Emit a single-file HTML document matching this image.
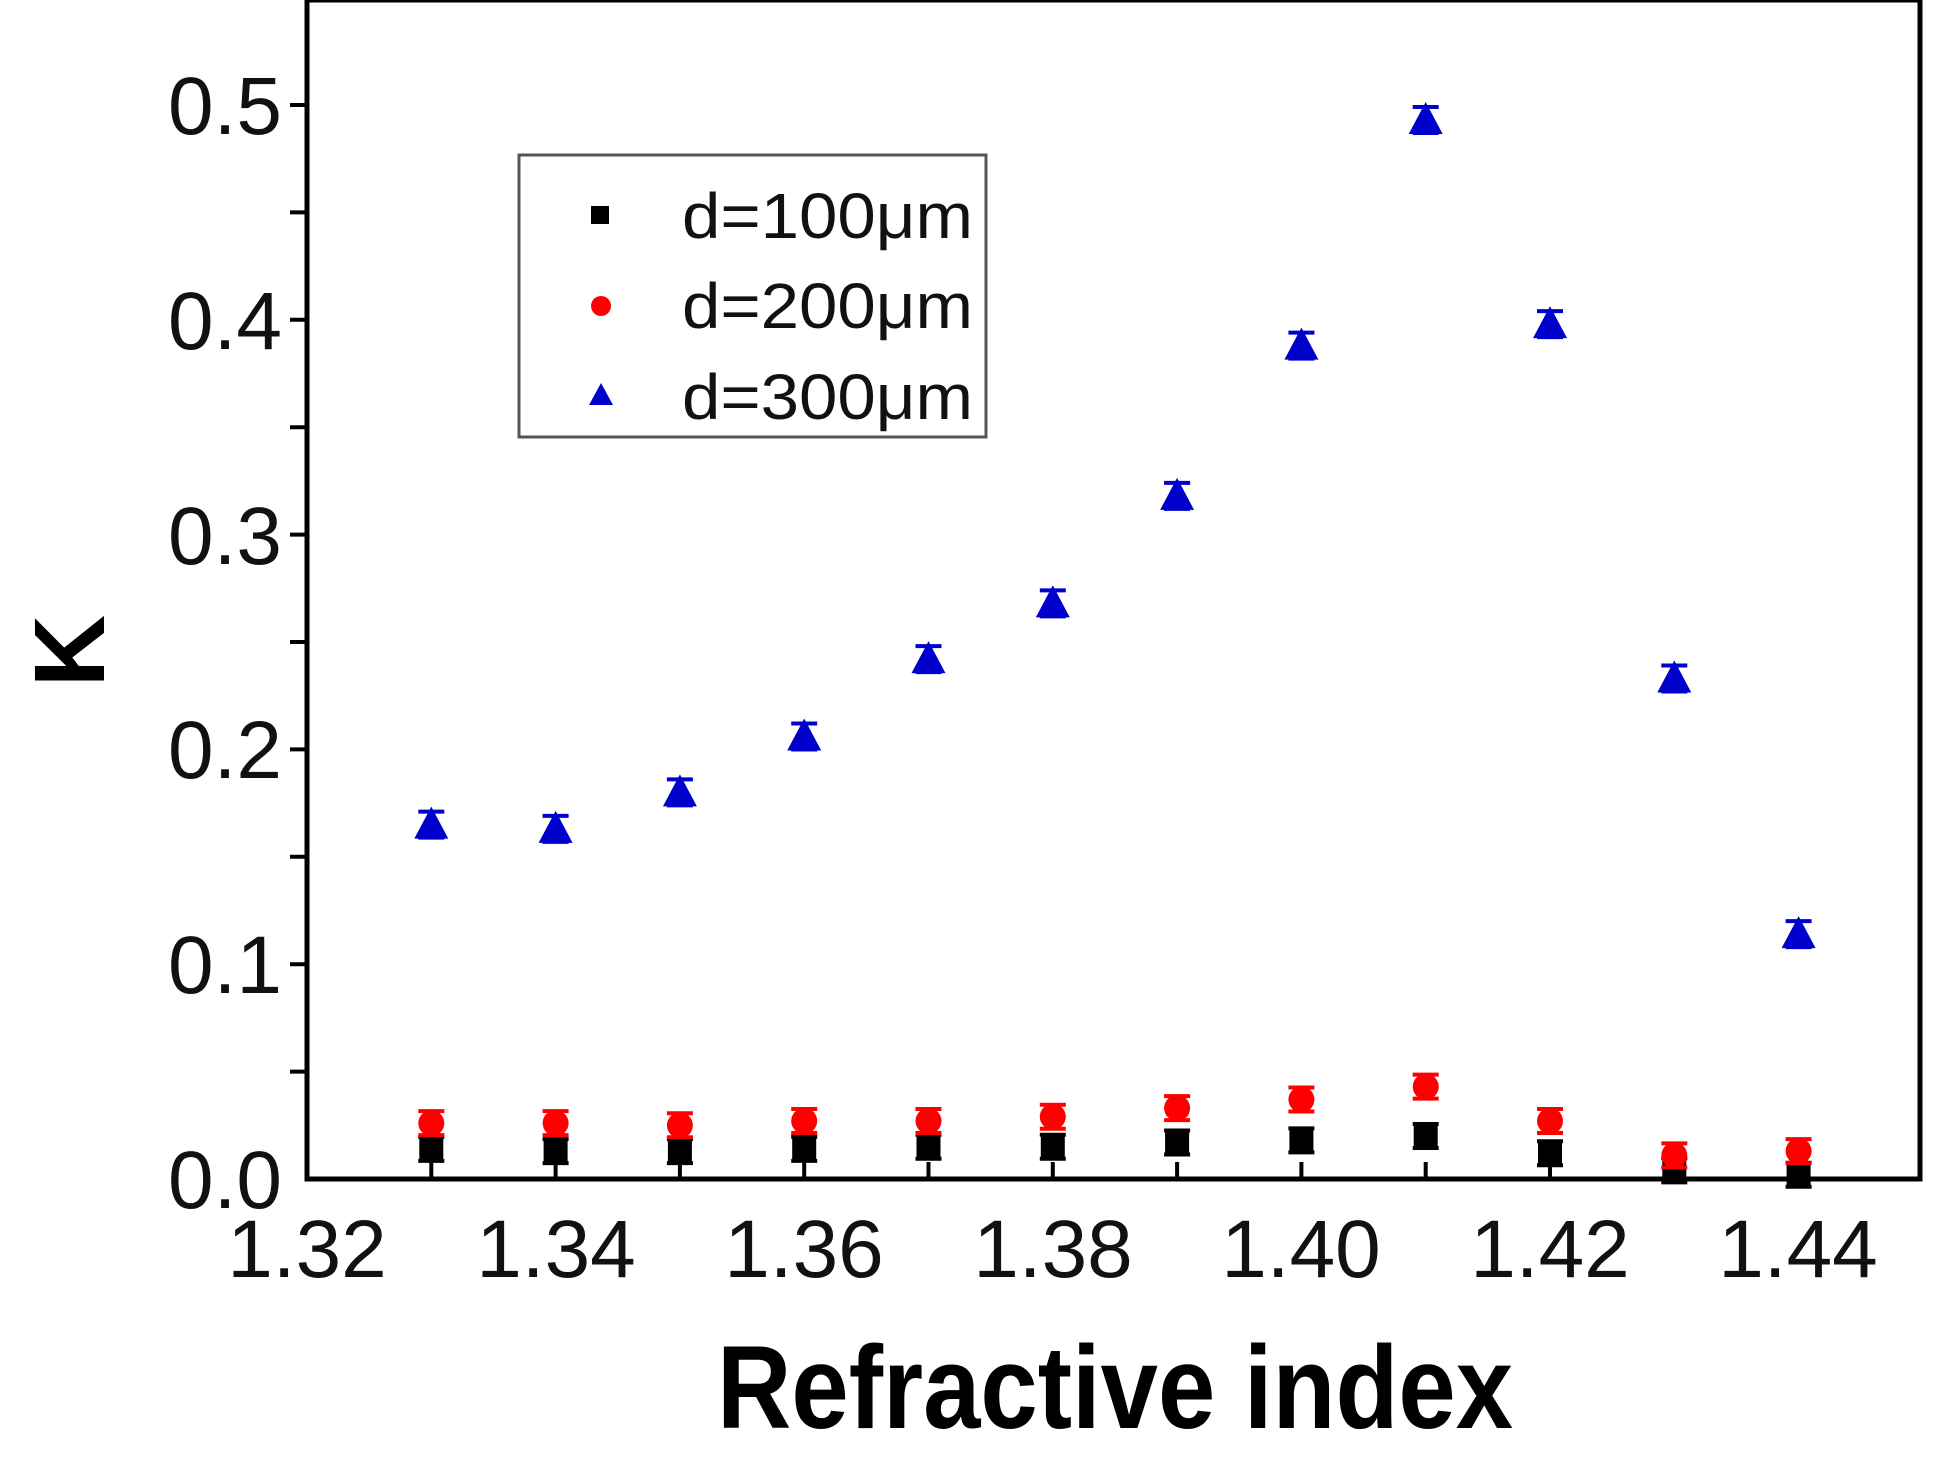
<!DOCTYPE html>
<html><head><meta charset="utf-8"><style>
html,body{margin:0;padding:0;background:#fff;}
svg{display:block;}
text{font-family:"Liberation Sans",Arial,sans-serif;}
</style></head><body>
<svg id="s" width="1945" height="1482" viewBox="0 0 1945 1482" xmlns="http://www.w3.org/2000/svg">
<rect width="1945" height="1482" fill="#fff"/>
<g id="g"></g>
<rect x="307" y="0" width="1613" height="1179" fill="none" stroke="#000" stroke-width="5"/>
<g font-size="82" fill="#111" text-anchor="middle">
<text x="307" y="1277">1.32</text><text x="556" y="1277">1.34</text><text x="804" y="1277">1.36</text>
<text x="1053" y="1277">1.38</text><text x="1301" y="1277">1.40</text><text x="1550" y="1277">1.42</text><text x="1798" y="1277">1.44</text>
</g>
<g font-size="82" fill="#111" text-anchor="end">
<text x="282" y="1208">0.0</text><text x="282" y="993">0.1</text><text x="282" y="778">0.2</text>
<text x="282" y="564">0.3</text><text x="282" y="349">0.4</text><text x="282" y="134">0.5</text>
</g>
<text x="1115" y="1428" font-size="118" font-weight="bold" text-anchor="middle" textLength="796" lengthAdjust="spacingAndGlyphs">Refractive index</text>
<text transform="translate(104,651) rotate(-90)" font-size="100" font-weight="bold" text-anchor="middle">K</text>
<rect x="519" y="155" width="467" height="282" fill="#fff" stroke="#555" stroke-width="3"/>
<rect x="591" y="206" width="18" height="18" fill="#000"/>
<circle cx="601" cy="306" r="10" fill="#f00"/>
<polygon points="601,383 613,405 589,405" fill="#00c"/>
<g font-size="64" fill="#111">
<text x="682" y="238" textLength="291" lengthAdjust="spacingAndGlyphs">d=100μm</text><text x="682" y="328" textLength="291" lengthAdjust="spacingAndGlyphs">d=200μm</text><text x="682" y="419" textLength="291" lengthAdjust="spacingAndGlyphs">d=300μm</text>
</g>
</svg>
<script>
var g=document.getElementById('g'),ns='http://www.w3.org/2000/svg';
function X(v){return 307+(v-1.32)*12430;}function Y(v){return 1179-v*2148;}
function el(t,a){var e=document.createElementNS(ns,t);for(var k in a)e.setAttribute(k,a[k]);g.appendChild(e);return e;}
for(var i=1;i<11;i++){var y=Y(i*0.05);el('line',{x1:290,x2:307,y1:y,y2:y,stroke:'#000','stroke-width':4});}
for(var i=1;i<13;i++){var x=X(1.32+i*0.01);el('line',{x1:x,x2:x,y1:1179,y2:1162,stroke:'#000','stroke-width':4});}
var b=[.165,.163,.18,.206,.242,.268,.318,.388,.493,.398,.233,.114];
var r=[.026,.026,.025,.027,.027,.029,.033,.037,.043,.027,.011,.013];
var k=[.014,.013,.013,.014,.015,.015,.017,.018,.02,.012,.004,.002];
function eb(x,y,e,c){el('line',{x1:x,x2:x,y1:y-e,y2:y+e,stroke:c,'stroke-width':4});el('line',{x1:x-13,x2:x+13,y1:y-e,y2:y-e,stroke:c,'stroke-width':4});el('line',{x1:x-13,x2:x+13,y1:y+e,y2:y+e,stroke:c,'stroke-width':4});}
for(var i=0;i<12;i++){var x=X(1.33+i*0.01);
var y=Y(k[i]);eb(x,y,12,'#000');el('rect',{x:x-12,y:y-12,width:24,height:24,fill:'#000'});
y=Y(r[i]);eb(x,y,12,'#f00');el('circle',{cx:x,cy:y,r:13,fill:'#f00'});
y=Y(b[i]);eb(x,y,13,'#00c');el('polygon',{points:(x)+','+(y-18)+' '+(x+17)+','+(y+14)+' '+(x-17)+','+(y+14),fill:'#00c'});}
</script>
</body></html>
